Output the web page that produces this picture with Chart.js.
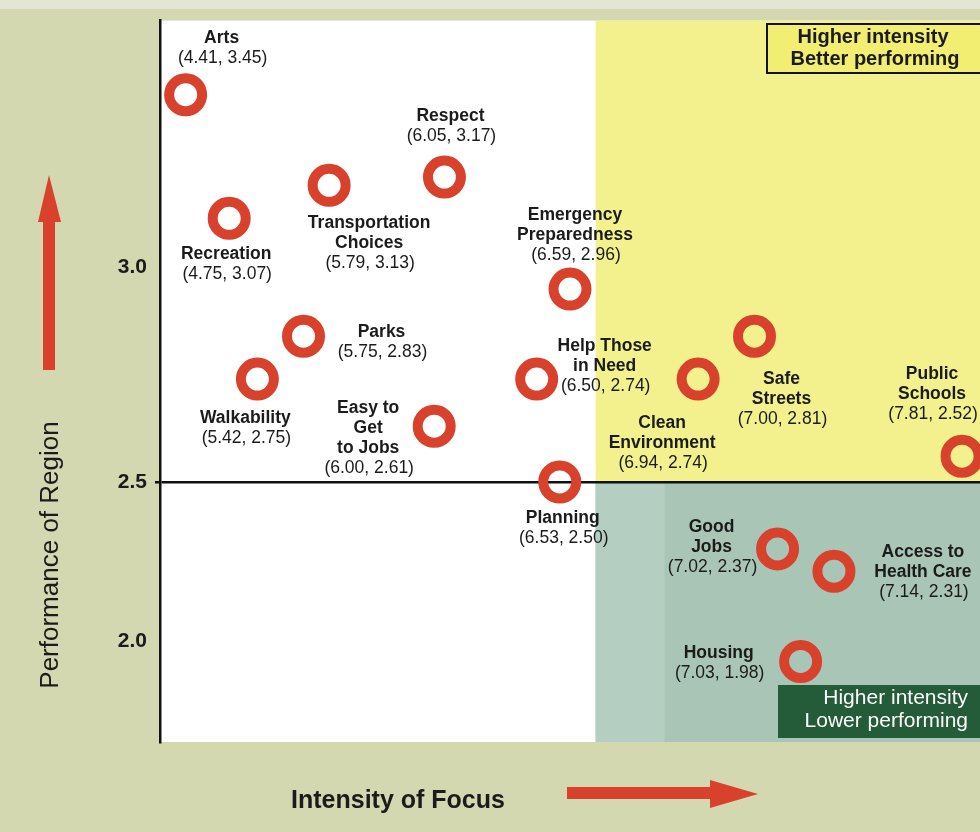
<!DOCTYPE html>
<html>
<head>
<meta charset="utf-8">
<title>Intensity of Focus vs Performance of Region</title>
<script src="https://cdn.jsdelivr.net/npm/chart.js@4.4.1/dist/chart.umd.min.js"></script>
<style>
  html, body { margin: 0; padding: 0; background: #d3d8b1; }
  canvas { display: block; }
</style>
</head>
<body>
<canvas id="chart" width="980" height="832"></canvas>
<script>
// priorities, one ring each ("\n" = line break in the label)
const priorities = [
  "Arts", "Recreation", "Walkability", "Parks", "Transportation\nChoices",
  "Easy to\nGet\nto Jobs", "Respect", "Help Those\nin Need", "Planning",
  "Emergency\nPreparedness", "Clean\nEnvironment", "Safe\nStreets",
  "Good\nJobs", "Housing", "Access to\nHealth Care", "Public\nSchools",
];

// scores printed under each name
const scoreIntensity = [4.41, 4.75, 5.42, 5.75, 5.79, 6.00, 6.05, 6.50, 6.53, 6.59, 6.94, 7.00, 7.02, 7.03, 7.14, 7.81];
const scorePerformance = [3.45, 3.07, 2.75, 2.83, 3.13, 2.61, 3.17, 2.74, 2.50, 2.96, 2.74, 2.81, 2.37, 1.98, 2.31, 2.52];

// where the rings actually sit (the original places them by eye, not to scale)
const ringIntensity = [4.90, 5.07, 5.18, 5.36, 5.46, 5.87, 5.91, 6.27, 6.36, 6.40, 6.90, 7.12, 7.21, 7.30, 7.43, 7.93];
const ringPerformance = [3.42, 3.12, 2.74, 2.84, 3.20, 2.63, 3.22, 2.74, 2.50, 2.95, 2.74, 2.84, 2.29, 1.94, 2.22, 2.56];

const performanceTicks = [3.0, 2.5, 2.0];
const performanceMidline = 2.5;
const intensityHigh = 6.5;

const FONT = '"Liberation Sans", Arial, sans-serif';
const RED = "#d8412c";
const INK = "#1b1b1b";

// label placement: [dx, dy of first line] from the ring centre
const labelOffsets = [
  [36, -57], [-3, 36], [-12, 39], [78, -4], [40, 38], [-66, -18], [6, -61], [68, -33],
  [3, 36], [5, -74], [-36, 44], [27, 43], [-66, -22], [-82, -8], [89, -19], [-30, -82],
];

// the vertical axis of the original is stretched unevenly: piecewise linear
const bendValues = [1.7, 2.0, 2.5, 3.0, 3.6];
const bendStops = [0, 0.1395, 0.3605, 0.6575, 1];

class BentScale extends Chart.LinearScale {
  static id = "bent";
  getPixelForValue(value) {
    if (value === null || value === undefined) return NaN;
    let i = 0;
    while (i < bendValues.length - 2 && value > bendValues[i + 1]) i++;
    const t = (value - bendValues[i]) / (bendValues[i + 1] - bendValues[i]);
    return this.getPixelForDecimal(bendStops[i] + t * (bendStops[i + 1] - bendStops[i]));
  }
  getValueForPixel(pixel) {
    const d = this.getDecimalForPixel(pixel);
    let i = 0;
    while (i < bendStops.length - 2 && d > bendStops[i + 1]) i++;
    const t = (d - bendStops[i]) / (bendStops[i + 1] - bendStops[i]);
    return bendValues[i] + t * (bendValues[i + 1] - bendValues[i]);
  }
}
Chart.register(BentScale);

const arrow = (ctx, pts) => {
  ctx.beginPath();
  pts.forEach(([x, y], i) => (i ? ctx.lineTo(x, y) : ctx.moveTo(x, y)));
  ctx.closePath();
  ctx.fill();
};

const backdrop = {
  id: "backdrop",
  beforeDraw(chart) {
    const { ctx, chartArea: a, scales: { x, y } } = chart;
    ctx.save();
    ctx.fillStyle = "#d3d8b1";
    ctx.fillRect(0, 0, chart.width, chart.height);
    ctx.fillStyle = "#e4e6d4";
    ctx.fillRect(0, 0, chart.width, 9);
    ctx.fillStyle = "#ffffff";
    ctx.fillRect(a.left, a.top, a.right - a.left, a.bottom - a.top);
    const xh = x.getPixelForValue(intensityHigh);
    const ym = y.getPixelForValue(performanceMidline);
    ctx.fillStyle = "#f3f18e";
    ctx.fillRect(xh, a.top, a.right - xh, ym - a.top);
    ctx.fillStyle = "#a8c5b5";
    ctx.fillRect(xh, ym, a.right - xh, a.bottom - ym);
    ctx.fillStyle = "#b4cec1";
    ctx.fillRect(xh, ym, 69, a.bottom - ym);
    ctx.restore();
  },
  beforeDatasetsDraw(chart) {
    const { ctx } = chart;
    ctx.save();
    // top right note
    ctx.fillStyle = "#f1ee72";
    ctx.fillRect(767, 24, 220, 49);
    ctx.strokeStyle = "#111";
    ctx.lineWidth = 2;
    ctx.strokeRect(767, 24, 220, 49);
    ctx.fillStyle = INK;
    ctx.font = `bold 20px ${FONT}`;
    ctx.textAlign = "center";
    ctx.textBaseline = "middle";
    ctx.fillText("Higher intensity", 873, 37);
    ctx.fillText("Better performing", 875, 59);
    // bottom right note
    ctx.fillStyle = "#245b38";
    ctx.fillRect(778, 685, 210, 53);
    ctx.fillStyle = "#ffffff";
    ctx.font = `21px ${FONT}`;
    ctx.textAlign = "right";
    ctx.fillText("Higher intensity", 968, 698);
    ctx.fillText("Lower performing", 968, 721);
    ctx.restore();
  },
  afterDatasetsDraw(chart) {
    const { ctx } = chart;
    const pts = chart.getDatasetMeta(0).data;
    ctx.save();
    ctx.textAlign = "center";
    ctx.textBaseline = "middle";
    ctx.fillStyle = INK;
    pts.forEach((p, i) => {
      const [dx, dy] = labelOffsets[i];
      const lines = priorities[i].split("\n");
      ctx.font = `bold 17.5px ${FONT}`;
      lines.forEach((t, k) => ctx.fillText(t, p.x + dx, p.y + dy + k * 20));
      ctx.font = `17.5px ${FONT}`;
      const score = `(${scoreIntensity[i].toFixed(2)}, ${scorePerformance[i].toFixed(2)})`;
      ctx.fillText(score, p.x + dx + 1, p.y + dy + lines.length * 20);
    });
    ctx.restore();
  },
  afterDraw(chart) {
    const { ctx } = chart;
    ctx.save();
    ctx.fillStyle = RED;
    // up arrow beside the vertical title
    arrow(ctx, [[43, 370], [43, 222], [38, 222], [49, 175], [61, 222], [55, 222], [55, 370]]);
    // right arrow beside the horizontal title
    arrow(ctx, [[567, 787], [710, 787], [710, 780], [758, 794], [710, 808], [710, 799], [567, 799]]);
    ctx.fillStyle = INK;
    ctx.textAlign = "center";
    ctx.textBaseline = "middle";
    ctx.font = `bold 25px ${FONT}`;
    ctx.fillText("Intensity of Focus", 398, 801);
    ctx.translate(51, 555);
    ctx.rotate(-Math.PI / 2);
    ctx.font = `26px ${FONT}`;
    ctx.fillText("Performance of Region", 0, 0);
    ctx.restore();
  },
};

new Chart(document.getElementById("chart"), {
  type: "scatter",
  data: {
    datasets: [{
      data: ringIntensity.map((x, i) => ({ x, y: ringPerformance[i] })),
      pointStyle: "circle",
      pointRadius: 16.5,
      pointHoverRadius: 16.5,
      pointBorderWidth: 10,
      borderColor: RED,
      backgroundColor: "rgba(0,0,0,0)",
      clip: false,
    }],
  },
  options: {
    responsive: false,
    animation: false,
    events: [],
    layout: { autoPadding: false, padding: { top: 18, bottom: 90, left: 0, right: 0 } },
    plugins: { legend: { display: false }, tooltip: { enabled: false } },
    scales: {
      x: { type: "linear", min: 4.8, max: 8.0, display: false },
      y: {
        type: "bent",
        min: 1.7,
        max: 3.6,
        afterBuildTicks: (s) => { s.ticks = performanceTicks.map((v) => ({ value: v })); },
        afterFit: (s) => { s.width = 160; },
        grid: {
          color: (c) => (c.tick && c.tick.value === performanceMidline ? "#111" : "rgba(0,0,0,0)"),
          lineWidth: 2.5,
          tickLength: 5,
        },
        border: { display: true, color: "#111", width: 2.5 },
        ticks: {
          color: INK,
          font: { family: FONT, size: 21, weight: "bold" },
          padding: 8,
          callback: (v) => Number(v).toFixed(1),
        },
      },
    },
  },
  plugins: [backdrop],
});
</script>
</body>
</html>
